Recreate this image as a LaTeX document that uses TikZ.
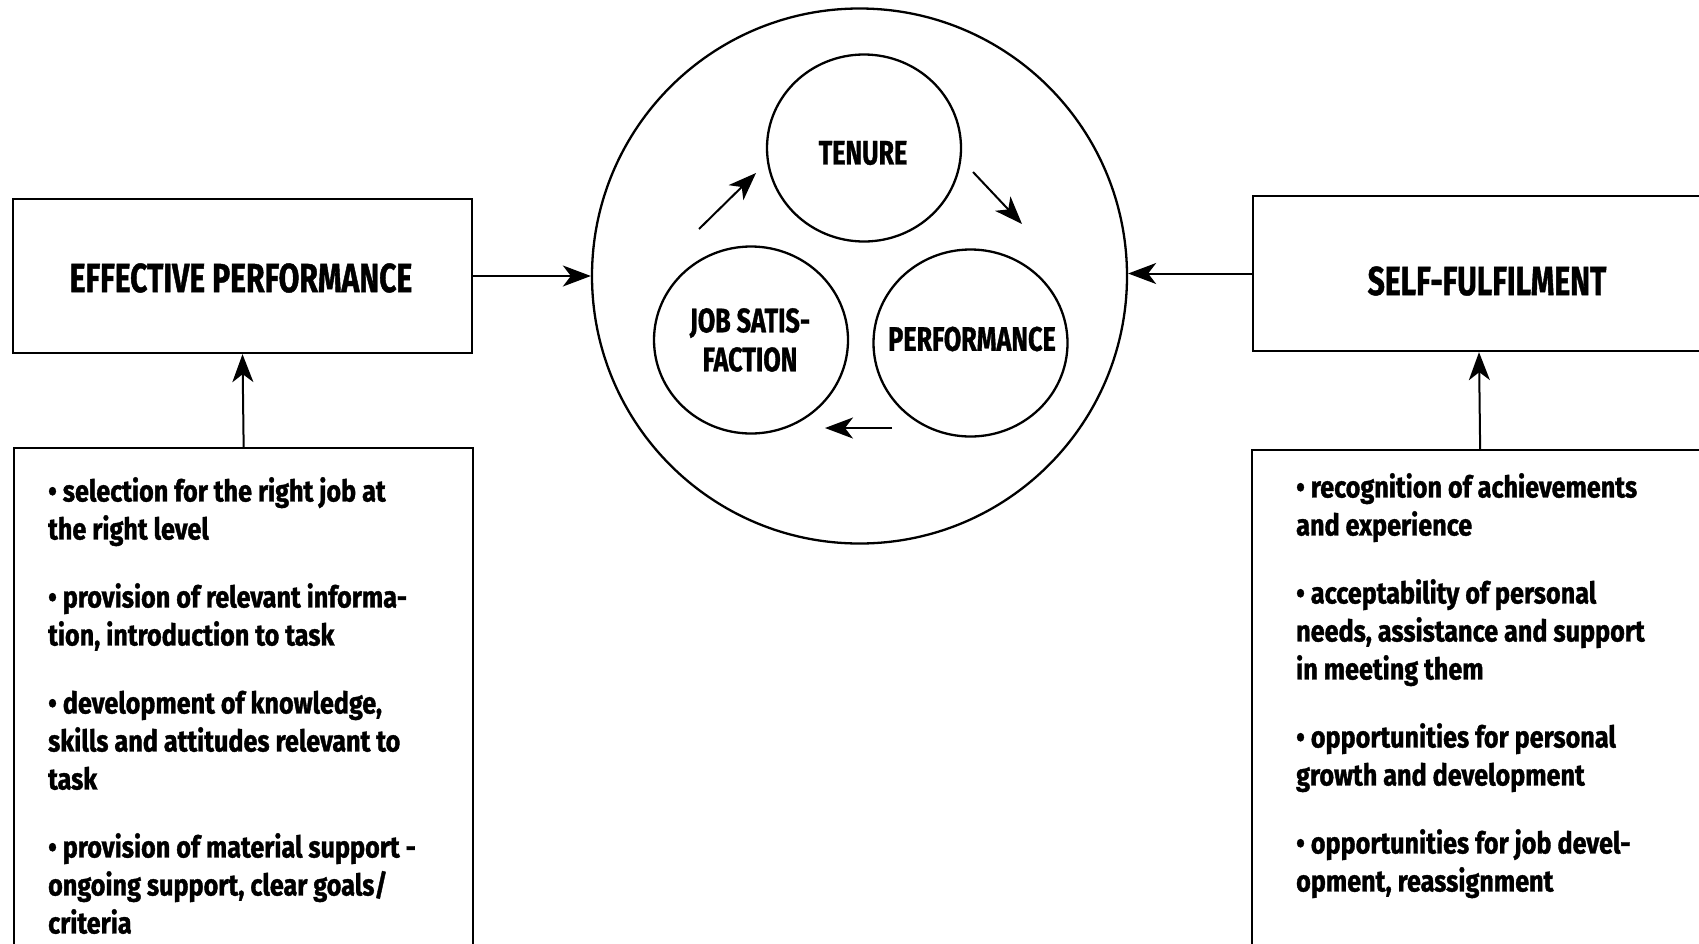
\documentclass[tikz,border=0pt]{standalone}
\usepackage{fontspec}
\setmainfont{Fira Sans}[FakeStretch=0.74,BoldFeatures={FakeBold=1}]
\newfontfamily\listfont{Fira Sans}[FakeStretch=0.84,BoldFeatures={FakeBold=1.2}]
\usetikzlibrary{arrows.meta,shapes.geometric}
\begin{document}
\begin{tikzpicture}[x=1pt,y=-1pt,line width=2.3pt,
  arr/.style={-{Stealth[length=28pt,width=21pt,inset=8pt]},line width=2pt},
  box/.style={draw,rectangle,inner sep=0pt},
  circ/.style={draw,ellipse,inner sep=0pt,minimum width=194pt,minimum height=187pt},
  clabel/.style={inner sep=0pt,align=center,font=\bfseries\fontsize{34}{39}\selectfont},
  title/.style={inner sep=0pt,font=\bfseries\fontsize{40.6}{48}\selectfont},
  list/.style={align=left,anchor=north west,inner sep=0pt,font=\listfont\bfseries\fontsize{30}{38}\selectfont}]
\useasboundingbox (0,0) rectangle (1699,943);
\clip (0,0) rectangle (1699,943);
% boxes
\node[box,minimum width=459pt,minimum height=154pt] (ep) at (242.5,276) {};
\node[title] (eplabel) at (241,278) {EFFECTIVE PERFORMANCE};
\node[box,minimum width=468pt,minimum height=155pt] (sf) at (1487,273.5) {};
\node[title] (sflabel) at (1487,281) {SELF-FULFILMENT};
\node[box,anchor=north west,minimum width=459pt,minimum height=600pt] (lbox) at (13,447) {};
\node[box,anchor=north west,minimum width=470pt,minimum height=600pt] (rbox) at (1251,449) {};
% circles
\node[draw,circle,minimum size=535pt,inner sep=0pt] (big) at (859.5,276) {};
\node[circ] (tenure) at (864,148) {};
\node[circ] (js) at (751,340) {};
\node[circ] (perf) at (970.5,343) {};
\node[clabel] (tenurelabel) at (863,153) {TENURE};
\node[clabel] (jslabel) at (750,340) {JOB SATIS-\\FACTION};
\node[clabel] (perflabel) at (972,339) {PERFORMANCE};
% lists
\node[list] (llist) at (47,476) {%
• selection for the right job at\\the right level\\[30pt]
• provision of relevant informa-\\tion, introduction to task\\[30pt]
• development of knowledge,\\skills and attitudes relevant to\\task\\[30pt]
• provision of material support -\\ongoing support, clear goals/\\criteria};
\node[list] (rlist) at (1295,472) {%
• recognition of achievements\\and experience\\[30pt]
• acceptability of personal\\needs, assistance and support\\in meeting them\\[30pt]
• opportunities for personal\\growth and development\\[30pt]
• opportunities for job devel-\\opment, reassignment};
% connectors
\draw[arr] (ep.east) -- (big.west);
\draw[arr] (sf.west) -- (sf.west -| big.east);
\draw[arr] (lbox.north) -- (ep.south);
\draw[arr] ([xshift=-7pt]rbox.north) -- ([xshift=-8pt]sf.south);
\coordinate (a1s) at (699,229); \coordinate (a1e) at (756,173);
\coordinate (a2s) at (973,172); \coordinate (a2e) at (1022,224);
\coordinate (a3s) at (892,428); \coordinate (a3e) at (825,428);
\draw[arr] (a1s) -- (a1e);
\draw[arr] (a2s) -- (a2e);
\draw[arr] (a3s) -- (a3e);
\end{tikzpicture}
\end{document}
